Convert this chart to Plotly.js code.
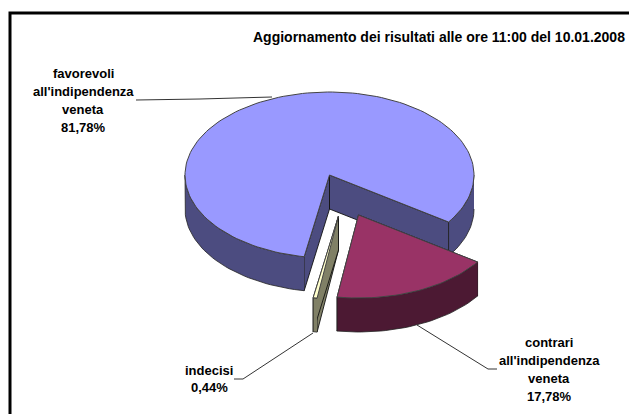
<!DOCTYPE html>
<html><head><meta charset="utf-8">
<script src="https://cdn.plot.ly/plotly-3.0.1.min.js"></script>
<style>html,body{margin:0;padding:0;background:#fff}#c{width:629px;height:414px}</style>
</head><body><div id="c"></div>
<script>
// Data
const categories = ["favorevoli all'indipendenza veneta", "contrari all'indipendenza veneta", "indecisi"];
const shares = [81.78, 17.78, 0.44];
const labelLines = [["favorevoli", "all'indipendenza", "veneta"], ["contrari", "all'indipendenza", "veneta"], ["indecisi"]];
const chartTitle = "Aggiornamento dei risultati alle ore 11:00 del 10.01.2008";

// Styling and geometry of the tilted pie
const topColors = ["#9999FF", "#993366", "#FFFFCC"];
const sideColors = ["#4C4C80", "#4C1933", "#808066"];
const startAngle = 100.1;   // degrees, clockwise on screen from east
const cx = 329.5, cy = 175, rx = 144.5, ry = 83, depth = 34;
const explode = [[0, 0], [29, 40], [9, 41]];
const labelX = [83, 549, 209];
const labelY = [73, 342, 370];
const lineGap = [18, 18, 17];
const leaders = [
  [[136, 100], [200, 99], [272, 97]],
  [[417, 325], [488, 369], [497, 369]],
  [[313, 333], [243, 379], [234, 379]]
];

const rad = d => d * Math.PI / 180;
const traces = [];
function poly(xs, ys, fill, line, w) {
  traces.push({type: 'scatter', mode: 'lines', x: xs, y: ys, fill: 'toself', fillcolor: fill,
    line: {color: line, width: w}, hoverinfo: 'skip', showlegend: false});
}
function rim(ox, oy, a, b, dz) {
  const xs = [], ys = [], n = Math.max(2, Math.ceil((b - a) / 2));
  for (let i = 0; i <= n; i++) {
    const t = rad(a + (b - a) * i / n);
    xs.push(ox + cx + rx * Math.cos(t));
    ys.push(oy + cy + ry * Math.sin(t) + dz);
  }
  return [xs, ys];
}
function slice(i, a, b) {
  const ox = explode[i][0], oy = explode[i][1];
  const ax = cx + ox, ay = cy + oy;
  const side = sideColors[i];
  const pa = rim(ox, oy, a, a, 0), pb = rim(ox, oy, b, b, 0);
  const A = [pa[0][0], pa[1][0]], B = [pb[0][0], pb[1][0]];
  // cut faces, back one first
  poly([ax, A[0], A[0], ax, ax], [ay, A[1], A[1] + depth, ay + depth, ay], side, '#111', 0.9);
  poly([ax, B[0], B[0], ax, ax], [ay, B[1], B[1] + depth, ay + depth, ay], side, '#111', 0.9);
  // outer wall, only where it faces the viewer
  [[a, Math.min(b, 180)], [Math.max(a, 360), Math.min(b, 540)]].forEach(r => {
    if (r[1] <= r[0]) return;
    const u = rim(ox, oy, r[0], r[1], 0), d = rim(ox, oy, r[0], r[1], depth);
    poly(u[0].concat(d[0].slice().reverse()), u[1].concat(d[1].slice().reverse()), side, '#222', 0.8);
  });
  const t = rim(ox, oy, a, b, 0);
  poly([ax].concat(t[0], [ax]), [ay].concat(t[1], [ay]), topColors[i], '#444', 1);
}
let cum = startAngle;
const spans = shares.map(s => { const a = cum; cum += s * 3.6; return [a, cum]; });
[0, 2, 1].forEach(i => slice(i, spans[i][0], spans[i][1]));

leaders.forEach(l => traces.push({type: 'scatter', mode: 'lines', x: l.map(p => p[0]), y: l.map(p => p[1]),
  line: {color: '#333', width: 1}, hoverinfo: 'skip', showlegend: false}));

// frame
traces.push({type: 'scatter', mode: 'lines', x: [10, 10, 629], y: [414, 13, 13],
  line: {color: '#000', width: 3}, hoverinfo: 'skip', showlegend: false});

const family = '"Liberation Sans", Arial, sans-serif';
const note = (text, x, y, size) => ({text: '<b>' + text + '</b>', x, y, xref: 'x', yref: 'y', showarrow: false,
  xanchor: 'center', yanchor: 'middle', font: {family, size, color: '#000'}});
const annotations = [note(chartTitle, 439, 37, 14)];
labelLines.forEach((ls, i) => {
  const pct = shares[i].toFixed(2).replace('.', ',') + '%';
  ls.concat([pct]).forEach((s, j) => annotations.push(note(s, labelX[i], labelY[i] + j * lineGap[i], 13)));
});

Plotly.newPlot('c', traces, {
  width: 629, height: 414, margin: {l: 0, r: 0, t: 0, b: 0}, showlegend: false,
  paper_bgcolor: '#fff', plot_bgcolor: '#fff',
  xaxis: {range: [0, 629], visible: false, fixedrange: true},
  yaxis: {range: [414, 0], visible: false, fixedrange: true},
  annotations
}, {displayModeBar: false, staticPlot: true});
</script></body></html>
